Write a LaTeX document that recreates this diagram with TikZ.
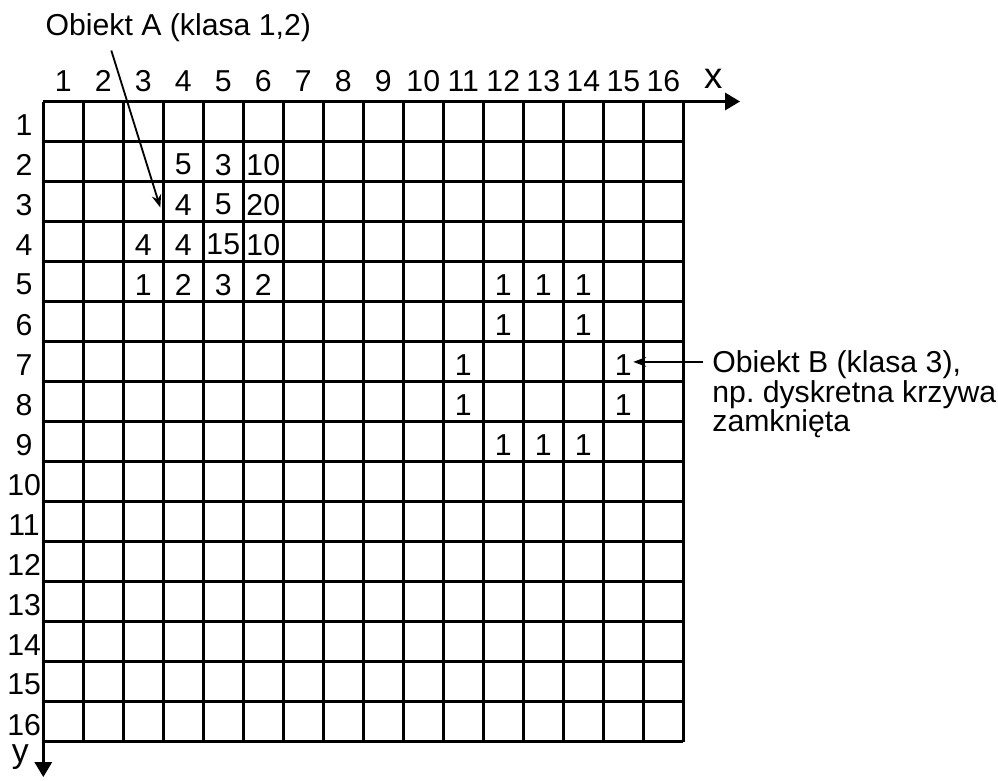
\documentclass[tikz,border=0pt]{standalone}
\usepackage{fontspec}
\setmainfont{Liberation Sans}
\usetikzlibrary{arrows.meta,positioning}
\tikzset{
  >=Stealth,
}
\frenchspacing

\begin{document}
\begin{tikzpicture}[
  grid line/.style={line width=2.1pt},
  axis/.style={line width=2.1pt, -{Triangle[length=3.75mm,width=4.25mm]}},
  pointer/.style={line width=1.3pt, -{Stealth[length=3.2mm,width=2.4mm]}},
  lbl/.style={inner sep=0pt, font=\fontsize{21.5pt}{19.5pt}\selectfont},
  axlbl/.style={inner sep=0pt, font=\fontsize{26pt}{26pt}\selectfont}
]
\useasboundingbox (-1.0825,-16.9625) rectangle (23.8675,2.5375);
% grid
\draw[grid line] (0,0) grid (16,-16);
\draw[axis] (0,0) -- (17.42,0);
\draw[axis] (0,0) -- (0,-16.89);
\node[axlbl] (xlab) at (16.75,0.56) {x};
\node[axlbl, font=\fontsize{24pt}{24pt}\selectfont] (ylab) at (-0.575,-16.38) {y};
% axis numbers
\foreach \i in {1,...,16} {
  \node[lbl, anchor=base] (col\i) at (\i-0.5,0.24) {\i};
  \node[lbl] (row\i) at (-0.48,-\i+0.42) {\i};
}
% cell values
\foreach \c/\r/\v in {4/2/5, 5/2/3, 6/2/10, 4/3/4, 5/3/5, 6/3/20,
    3/4/4, 4/4/4, 5/4/15, 6/4/10, 3/5/1, 4/5/2, 5/5/3, 6/5/2,
    12/5/1, 13/5/1, 14/5/1, 12/6/1, 14/6/1, 11/7/1, 15/7/1,
    11/8/1, 15/8/1, 12/9/1, 13/9/1, 14/9/1} {
  \node[lbl] (v\c-\r) at (\c-0.5,-\r+0.42) {\v};
}
% objects
\node[lbl, anchor=base west] (objA) at (0.05,1.65) {Obiekt A (klasa 1,2)};
\coordinate (aTail) at (1.7,1.275);
\coordinate (aTip) at (2.925,-2.65);
\draw[pointer] (aTail) -- (aTip);
\node[lbl, anchor=north west, align=left] (objB) at (16.72,-6.22)
  {Obiekt B (klasa 3),\\np. dyskretna krzywa\\zamknięta};
\coordinate (bTail) at (16.5,-6.51);
\coordinate (bTip) at (14.75,-6.51);
\draw[pointer] (bTail) -- (bTip);
\end{tikzpicture}
\end{document}
